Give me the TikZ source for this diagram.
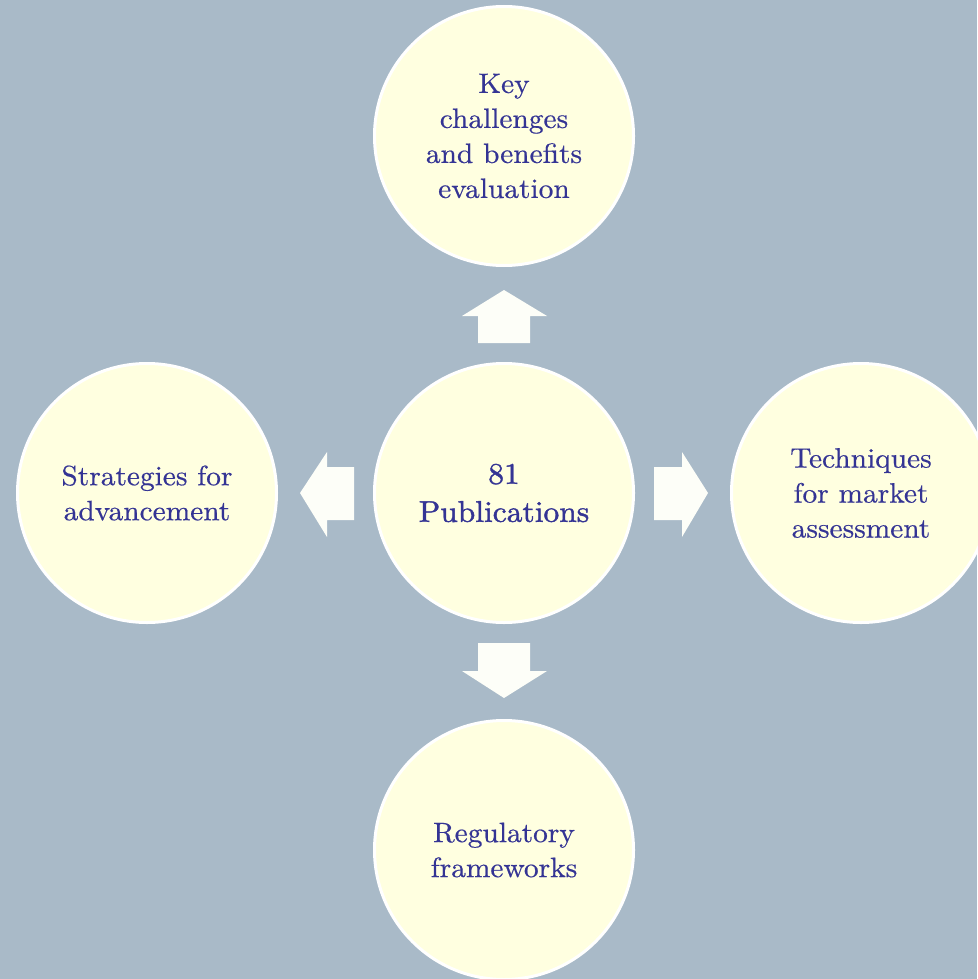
\documentclass[tikz,border=0pt]{standalone}
\usepackage{fontspec}
\newfontfamily\bubblefont{lmroman10-regular.otf}[FakeStretch=1.05,FakeBold=0.5]
\newfontfamily\hubfont{lmroman10-regular.otf}[FakeStretch=1.05,FakeBold=1.3]
\definecolor{bg}{HTML}{A9BAC8}
\definecolor{disk}{HTML}{FFFFE0}
\definecolor{ink}{HTML}{343494}
\definecolor{arr}{HTML}{FDFEF8}
\begin{document}
\begin{tikzpicture}[x=1pt,y=-1pt,
  bubble/.style={circle,minimum size=259pt,inner sep=0pt,fill=disk,draw=white,line width=3pt,
    text=ink,align=center,font=\bubblefont\fontsize{28}{35}\selectfont},
  hub/.style={bubble,font=\hubfont\fontsize{30}{38}\selectfont},
  arrowshape/.style={fill=arr,draw=none}]
\useasboundingbox (0,0) rectangle (977,979);
\fill[bg] (0,0) rectangle (977,979);
\node[hub] (c) at (504,493) {81\\Publications};
\node[bubble] (t) at (504,136) {Key\\challenges\\and benefits\\evaluation};
\node[bubble] (l) at (147,493) {Strategies for\\advancement};
\node[bubble] (r) at (861,493) {Techniques\\for market\\assessment};
\node[bubble] (b) at (504,850) {Regulatory\\frameworks};
% up arrow
\fill[arrowshape] (478,343) -- (478,316) -- (462,316) -- (504,290) -- (547,316) -- (530,316) -- (530,343) -- cycle;
% down arrow
\fill[arrowshape] (478,643) -- (478,671) -- (462,671) -- (504,698) -- (547,671) -- (530,671) -- (530,643) -- cycle;
% left arrow
\fill[arrowshape] (354,467) -- (327,467) -- (327,452) -- (300,493) -- (327,537) -- (327,520) -- (354,520) -- cycle;
% right arrow
\fill[arrowshape] (654,467) -- (682,467) -- (682,452) -- (708,493) -- (682,537) -- (682,520) -- (654,520) -- cycle;
\end{tikzpicture}
\end{document}
